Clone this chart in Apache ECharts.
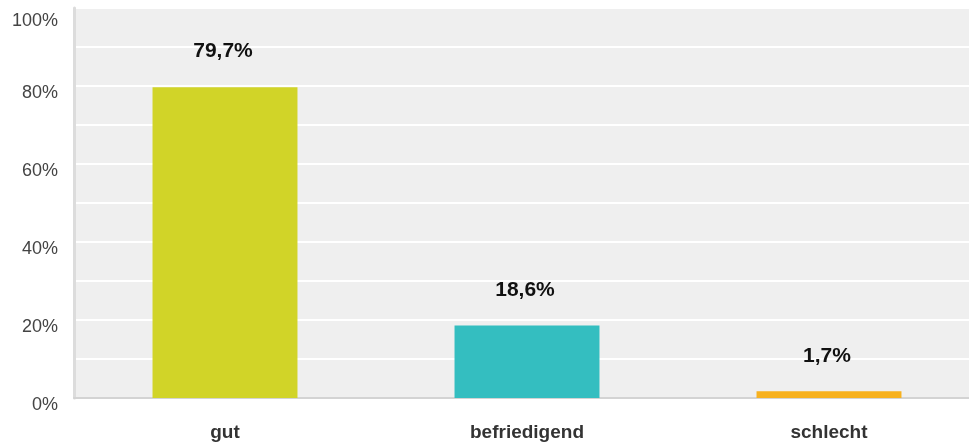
<!DOCTYPE html>
<html><head><meta charset="utf-8">
<script src="https://cdn.jsdelivr.net/npm/echarts@6/dist/echarts.min.js"></script>
<style>html,body{margin:0;padding:0;background:#fff}#c{width:969px;height:447px}</style>
</head><body><div id="c"></div>
<script>
const categories = ['gut', 'befriedigend', 'schlecht'];
const values = [79.7, 18.6, 1.7];
const colors = ['#d1d428', '#34bec0', '#f7b11f'];
const yTicks = [0, 20, 40, 60, 80, 100];

const chart = echarts.init(document.getElementById('c'));
const font = '"Liberation Sans", Arial, Helvetica, sans-serif';
chart.setOption({
  animation: false,
  grid: {left: 74, width: 906, top: 8, bottom: 49, show: true, backgroundColor: '#efefef', borderWidth: 0,
         containLabel: false, outerBoundsMode: 'none'},
  xAxis: {
    type: 'category', data: categories,
    axisLine: {lineStyle: {color: '#d3d3d3', width: 2}},
    axisTick: {show: false},
    axisLabel: {color: '#333', fontFamily: font, fontSize: 19, fontWeight: 'bold', margin: 25}
  },
  yAxis: {
    type: 'value', min: 0, max: 100, interval: 10,
    axisLine: {show: true, lineStyle: {color: '#dcdcdc', width: 3}},
    axisTick: {show: false},
    splitLine: {lineStyle: {color: '#ffffff', width: 2}},
    axisLabel: {
      color: '#444', fontFamily: font, fontSize: 18, margin: 16,
      verticalAlign: 'top', lineHeight: 14,
      formatter: v => v === 100 ? '{t|100%}' : (yTicks.includes(v) ? v + '%' : ''),
      rich: {t: {color: '#444', fontFamily: font, fontSize: 18, lineHeight: 14, padding: [12, 0, 0, 0]}}
    }
  },
  series: [{
    type: 'bar', barWidth: '48%',
    data: values.map((v, i) => ({value: v, itemStyle: {color: colors[i]}})),
    label: {
      show: true, position: 'top', distance: 25, offset: [-2, 0],
      color: '#111', fontFamily: font, fontSize: 21, fontWeight: 'bold',
      formatter: p => String(p.value).replace('.', ',') + '%'
    }
  }]
});
</script></body></html>
